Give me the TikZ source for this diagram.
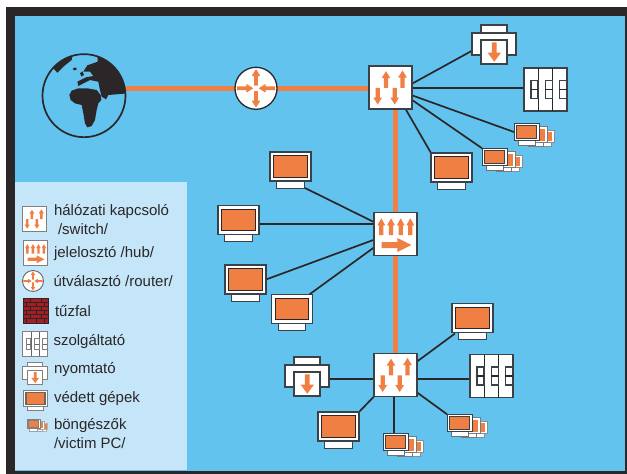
\documentclass[tikz,border=0pt]{standalone}
\usepackage{fontspec}
\setmainfont{Liberation Sans}
\usetikzlibrary{backgrounds,calc}
\definecolor{skyb}{HTML}{62C3EF}
\definecolor{panelb}{HTML}{C5E6F8}
\definecolor{orng}{HTML}{F07F44}
\definecolor{ink}{HTML}{2B2627}
\definecolor{edge}{HTML}{3A4248}
\definecolor{brick}{HTML}{A61E24}
\newcommand{\myarr}[7]{\fill[orng,shift={(#1,#2)},rotate=#3] (0,-#5) -- ({#4-#7},-#5) -- ({#4-#7},-#6) -- (#4,0) -- ({#4-#7},#6) -- ({#4-#7},#5) -- (0,#5) -- cycle;}
\newcommand{\monit}[6]{% x0 y0 x1 y1 inset inner-line
  \filldraw[fill=white,draw=edge] (#1,#2) rectangle (#3,#4);
  \filldraw[fill=orng,draw=ink,line width=#6] ({#1+#5},{#2+#5}) rectangle ({#3-#5},{#4-#5});}
\tikzset{
  hitsquare/.style={rectangle,minimum width=43pt,minimum height=43pt,inner sep=0pt,outer sep=0pt},
  hitrouter/.style={circle,minimum size=42pt,inner sep=0pt,outer sep=0pt},
  hitglobe/.style={circle,minimum size=83pt,inner sep=0pt,outer sep=0pt},
  hitpc/.style={rectangle,minimum width=41pt,minimum height=29pt,inner sep=0pt,outer sep=0pt},
  hitprinter/.style={rectangle,minimum width=44pt,minimum height=22pt,inner sep=0pt,outer sep=0pt},
  hitbrowser/.style={rectangle,minimum width=25pt,minimum height=17.5pt,inner sep=0pt,outer sep=0pt},
  wire/.style={draw=ink,line width=1.7pt},
  trunk/.style={draw=orng,line width=5.4pt},
  legtext/.style={anchor=west,inner sep=0pt,outer sep=0pt,text=ink,font=\fontsize{15}{17}\selectfont},
  icon/.style={line width=1.3pt},
  smallicon/.style={line width=.9pt,scale=.57,/utils/exec={\colorlet{edge}{black!50}\colorlet{ink}{black!60}}},
  switchicon/.pic={
    \filldraw[fill=white,draw=edge] (-21.5,-21.5) rectangle (21.5,21.5);
    \myarr{-4.5}{.3}{90}{16.6}{2.2}{4.4}{7}
    \myarr{12}{.3}{90}{17.3}{2.2}{4.4}{7}
    \myarr{-12.8}{.3}{-90}{16.7}{2.2}{4.4}{7}
    \myarr{4.2}{.3}{-90}{16.7}{2.2}{4.4}{7}
  },
  hubicon/.pic={
    \filldraw[fill=white,draw=edge] (-21.5,-21.5) rectangle (21.5,21.5);
    \myarr{-14.2}{1}{90}{16.7}{2.1}{3.9}{7}
    \myarr{-4.5}{1}{90}{16.7}{2.1}{3.9}{7}
    \myarr{5.2}{1}{90}{16.7}{2.1}{3.9}{7}
    \myarr{14.8}{1}{90}{16.7}{2.1}{3.9}{7}
    \myarr{-13.8}{11}{0}{29.6}{3}{7}{14}
  },
  routericon/.pic={
    \filldraw[fill=white,draw=ink] (0,0) circle (21);
    \myarr{0}{-2.7}{90}{16.5}{1.9}{4.4}{7}
    \myarr{0}{2.7}{-90}{16.5}{1.9}{4.4}{7}
    \myarr{-19}{0}{0}{16.3}{1.9}{4.4}{7}
    \myarr{19}{0}{180}{16.3}{1.9}{4.4}{7}
  },
  servericon/.pic={
    \filldraw[fill=white,draw=edge] (-21.5,-21.5) rectangle (21.5,21.5);
    \draw[ink] (-7.1,-21.5) -- (-7.1,21.5) (7.1,-21.5) -- (7.1,21.5);
    \foreach \sx in {-14.6,-.2,13.8}{
      \draw[edge,fill=white] (\sx,-9) rectangle ({\sx+7.2},9);
      \draw[ink] (\sx,0) -- ({\sx+7.2},0);
    }
  },
  printericon/.pic={
    \filldraw[fill=white,draw=edge] (-13,-19) rectangle (13,-11);
    \filldraw[fill=white,draw=edge] (-22,-11) rectangle (22,11);
    \filldraw[fill=white,draw=edge] (-13,-4) rectangle (13,20);
    \myarr{.3}{-1.7}{-90}{19.4}{2.4}{6.6}{9}
  },
  pcicon/.pic={
    \filldraw[fill=white,draw=edge] (-13.7,14.5) rectangle (13.7,21.8);
    \monit{-20.5}{-14.5}{20.5}{14.5}{3.7}{1.3pt}
  },
  browsericon/.pic={
    \begin{scope}[line width=.9pt]
    \filldraw[fill=white,draw=edge!60] (10,10.7) rectangle (25,14.5);
    \filldraw[fill=white,draw=edge!60] (9.5,-2) rectangle (27.5,10.7);
    \fill[orng] (13,.2) rectangle (25.2,8.7);
    \filldraw[fill=white,draw=edge!70] (2,10.6) rectangle (17,14.5);
    \filldraw[fill=white,draw=edge!70] (-1,-5.5) rectangle (20.5,10.6);
    \fill[orng] (3,-3) rectangle (18,8.5);
    \filldraw[fill=white,draw=edge!75] (-8.5,8.7) rectangle (8.5,13.7);
    \filldraw[fill=white,draw=edge] (-12.5,-8.7) rectangle (12.5,8.7);
    \filldraw[fill=orng,draw=edge] (-10,-6.2) rectangle (10,6.2);
    \end{scope}
  },
  firewallicon/.pic={
    \fill[brick] (-12.5,-12.5) rectangle (12.5,12.5);
    \draw[ink,line width=.6pt] (-12.5,-12.5) rectangle (12.5,12.5);
    \foreach \ry in {-8.3,-4.2,0,4.2,8.3}{\draw[ink,line width=.7pt] (-12.5,\ry) -- (12.5,\ry);}
    \foreach \bx/\by in {-5/-12.5,6/-12.5,-9/-8.3,1/-8.3,9/-8.3,-5/-4.2,6/-4.2,-9/0,1/0,9/0,-5/4.2,6/4.2,-9/8.3,1/8.3,9/8.3}{
      \draw[ink,line width=.7pt] (\bx,\by) -- (\bx,{\by+4.2});}
  },
}
\begin{document}
\begin{tikzpicture}[x=1pt,y=-1pt]
\useasboundingbox (0,0) rectangle (627,474);

% ---- nodes (hit areas), named for the connectors
\node[hitglobe] (globe) at (84,95.7) {};
\node[hitrouter] (router) at (256,88.3) {};
\node[hitsquare] (swa) at (390.5,87.5) {};
\node[hitsquare] (hub) at (395.5,234) {};
\node[hitsquare] (swb) at (395.5,375) {};
\node[hitprinter] (prna) at (494,44) {};
\node[hitsquare] (srva) at (545.5,89.5) {};
\node[hitbrowser] (bra) at (526.5,132) {};
\node[hitbrowser] (brb) at (494.5,157) {};
\node[hitpc] (pca) at (451.5,167.5) {};
\node[hitpc] (pcb) at (290.5,166.5) {};
\node[hitpc] (pcc) at (238.5,220) {};
\node[hitpc] (pcd) at (245.5,279.5) {};
\node[hitpc] (pce) at (292,309) {};
\node[hitpc] (pcf) at (472.5,318) {};
\node[hitsquare] (srvb) at (491.5,376) {};
\node[hitprinter] (prnb) at (307,376) {};
\node[hitpc] (pcg) at (338.5,426.5) {};
\node[hitbrowser] (brc) at (395.5,442) {};
\node[hitbrowser] (brd) at (459.5,423) {};

% ---- background, frame and connectors
\begin{pgfonlayer}{background}
  \fill[ink] (6.3,7.3) rectangle (627,474);
  \fill[skyb] (15.3,16.3) rectangle (625,470.7);
  \fill[panelb] (15.3,182) rectangle (187,470.2);

  \draw[trunk] (globe.east |- router.west) -- (router.west);
  \draw[trunk] (router.east) -- (router.east -| swa.west);
  \draw[trunk] (hub.north |- swa.south) -- (hub.north);
  \draw[trunk] (hub.south) -- (swb.north);

  \draw[wire] (swa.10) -- (prna.197);
  \draw[wire] ($(swa.east)+(0,.5)$) -- ($(swa.east -| srva.west)+(0,.5)$);
  \draw[wire] (swa.-20) -- (bra.west);
  \draw[wire] (swa.-30) -- (brb.north west);
  \draw[wire] (swa.-55) -- (pca.north west);

  \draw[wire] (hub.151) -- ($(pcb.south east)+(-6,7)$);
  \draw[wire] (hub.155) -- (pcc.east |- hub.155);
  \draw[wire] (hub.195) -- (pcd.east);
  \draw[wire] (hub.212) -- (pce.40);

  \draw[wire] (swb.32) -- ($(pcf.south west)+(3,1)$);
  \draw[wire] (swb.-10) -- (srvb.west |- swb.-10);
  \draw[wire] (swb.190) -- (prnb.east |- swb.190);
  \draw[wire] (swb.south west) -- (pcg.north east);
  \draw[wire] ($(swb.south)+(-1.5,0)$) -- ($(brc.north)+(-1.5,0)$);
  \draw[wire] (swb.-39) -- (brd.north west);
\end{pgfonlayer}

% ---- globe
\begin{scope}[x=.33333pt,y=-.33333pt]
  \begin{scope}
    \clip (252,287) circle (124.5);
    \fill[ink] (292,160) -- (293,185) -- (262,196) -- (250,215) -- (270,215) -- (280,228) -- (258,232) -- (232,245) -- (235,258) -- (270,240) -- (295,245) -- (300,270) -- (305,290) -- (318,298) -- (325,285) -- (385,280) -- (385,160) -- cycle;
    \fill[ink] (172,218) -- (190,200) -- (215,180) -- (218,165) -- (150,165) -- (160,205) -- cycle;
    \fill[ink] (208,285) -- (215,272) -- (235,265) -- (262,265) -- (290,270) -- (302,285) -- (304,300) -- (295,310) -- (290,330) -- (285,360) -- (275,378) -- (262,382) -- (255,370) -- (250,340) -- (245,315) -- (225,310) -- (212,300) -- cycle;
    \fill[ink] (218,206) -- (226,202) -- (231,208) -- (222,211) -- cycle;
    \fill[ink] (240,220) -- (247,214) -- (252,224) -- (245,230) -- cycle;
    \fill[skyb] (258,250) -- (270,248) -- (275,258) -- (262,260) -- cycle;
  \end{scope}
  \draw[ink,line width=1.7pt] (252,287) circle (124.5);
\end{scope}

% ---- network devices
\pic[icon] at (router) {routericon};
\pic[icon] at (swa) {switchicon};
\pic[icon] at (hub) {hubicon};
\pic[icon] at (swb) {switchicon};
\pic[icon] at (prna) {printericon};
\pic[icon] at (prnb) {printericon};
\pic[icon] at (srva) {servericon};
\pic[icon] at (srvb) {servericon};
\pic[icon] at (bra) {browsericon};
\pic[icon] at (brb) {browsericon};
\pic[icon] at (brc) {browsericon};
\pic[icon] at (brd) {browsericon};
\pic[icon] at (pca) {pcicon};
\pic[icon] at (pcb) {pcicon};
\pic[icon] at (pcc) {pcicon};
\pic[icon] at (pcd) {pcicon};
\pic[icon] at (pce) {pcicon};
\pic[icon] at (pcf) {pcicon};
\pic[icon] at (pcg) {pcicon};

% ---- legend
\pic[smallicon] at (34.5,219) {switchicon};
\pic[smallicon] at (35.5,253) {hubicon};
\pic[smallicon,scale=.5/.57] at (33,281) {routericon};
\pic at (35.5,310.5) {firewallicon};
\pic[smallicon] at (35,344) {servericon};
\pic[smallicon] at (35,373) {printericon};
\pic[smallicon] at (35.5,398.5) {pcicon};
\pic[smallicon,scale=.52/.57] at (33.5,424) {browsericon};

\node[legtext] (ta) at (54,212) {hálózati kapcsoló};
\node[legtext] (tb) at (58,229) {/switch/};
\node[legtext] (tc) at (54,254) {jelelosztó /hub/};
\node[legtext] (td) at (53.5,281) {útválasztó /router/};
\node[legtext] (te) at (55,311) {tűzfal};
\node[legtext] (tf) at (53.5,342) {szolgáltató};
\node[legtext] (tg) at (54,370) {nyomtató};
\node[legtext] (th) at (54,399) {védett gépek};
\node[legtext] (ti) at (54,426) {böngészők};
\node[legtext] (tj) at (54,443) {/victim PC/};
\end{tikzpicture}
\end{document}
